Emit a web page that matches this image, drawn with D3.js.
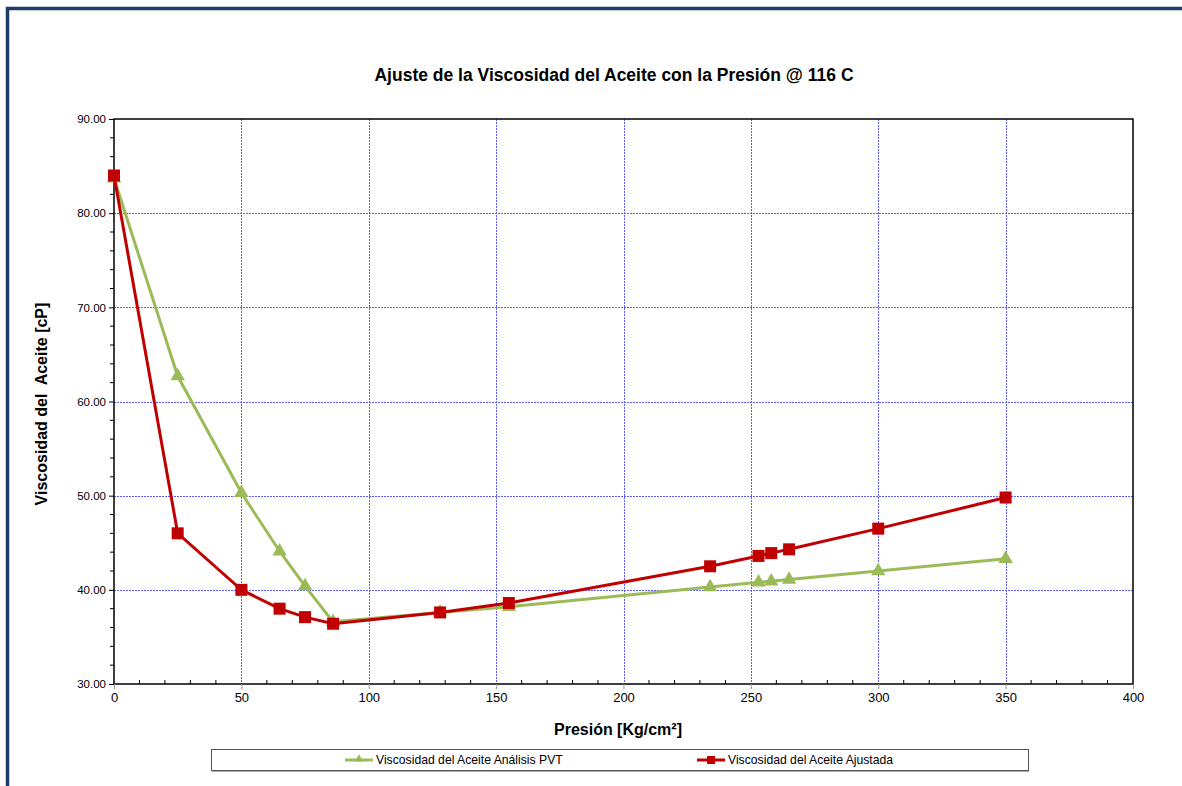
<!DOCTYPE html>
<html><head><meta charset="utf-8">
<script src="https://cdn.jsdelivr.net/npm/d3@7"></script>
<style>body{margin:0;background:#fff;}svg{display:block;font-family:"Liberation Sans",Arial,sans-serif;}</style>
</head><body>
<svg id="c" width="1182" height="786"></svg>
<script>
const title = "Ajuste de la Viscosidad del Aceite con la Presión @ 116 C";
const xLabel = "Presión [Kg/cm²]";
const yLabel = "Viscosidad del  Aceite [cP]";
const xTicks = [0, 50, 100, 150, 200, 250, 300, 350, 400];
const yTicks = [30, 40, 50, 60, 70, 80, 90];
const pvtName = "Viscosidad del Aceite Análisis PVT";
const pvtX = [0, 25, 50, 65, 75, 86, 128, 155, 234, 253, 258, 265, 300, 350];
const pvtY = [83.7, 62.7, 50.3, 44.1, 40.4, 36.6, 37.6, 38.2, 40.3, 40.8, 40.9, 41.1, 42.0, 43.3];
const adjName = "Viscosidad del Aceite Ajustada";
const adjX = [0, 25, 50, 65, 75, 86, 128, 155, 234, 253, 258, 265, 300, 350];
const adjY = [84.0, 46.0, 40.0, 38.0, 37.1, 36.4, 37.6, 38.6, 42.5, 43.6, 43.9, 44.3, 46.5, 49.8];

const svg = d3.select("#c");
const L = 114, R = 1133, T = 119, B = 684;
const x = d3.scaleLinear().domain([0, 400]).range([L, R]);
const y = d3.scaleLinear().domain([30, 90]).range([B, T]);
const green = "#9bbb59", red = "#c00000";
const px = v => Math.round(v) + 0.5;

// outer frame
svg.append("rect").attr("x", 7.5).attr("y", 8.5).attr("width", 1200).attr("height", 800)
  .attr("fill", "none").attr("stroke", "#1f3d66").attr("stroke-width", 3.5);

// title
svg.append("text").attr("x", 614).attr("y", 81).attr("text-anchor", "middle")
  .attr("font-size", 17.5).attr("font-weight", "bold").text(title);

// grid
const g = svg.append("g");
g.selectAll(".gx").data(xTicks.slice(1, -1)).join("line")
  .attr("x1", d => px(x(d))).attr("x2", d => px(x(d))).attr("y1", T).attr("y2", B)
  .attr("stroke", "#5c5cff").attr("stroke-width", 1).attr("stroke-dasharray", "2,1").attr("shape-rendering", "crispEdges");
g.selectAll(".gy").data(yTicks.slice(1, -1)).join("line")
  .attr("x1", L).attr("x2", R).attr("y1", d => px(y(d))).attr("y2", d => px(y(d)))
  .attr("stroke", "#5c5cff").attr("stroke-width", 1).attr("stroke-dasharray", "2,1").attr("shape-rendering", "crispEdges");

// plot border
svg.append("rect").attr("x", L).attr("y", T).attr("width", R - L).attr("height", B - T)
  .attr("fill", "none").attr("stroke", "#000").attr("stroke-width", 1.5);

// x axis
const xAxis = d3.axisBottom(x).tickValues(xTicks).tickFormat(d3.format("d")).tickSize(5).tickPadding(4);
const xa = svg.append("g").attr("transform", `translate(0,${B})`).call(xAxis);
xa.select(".domain").remove();
xa.selectAll(".tick line").attr("stroke", "#999");
xa.selectAll("text").attr("font-size", 13).attr("font-family", "Liberation Sans, Arial").attr("fill", "#000");
// x minor ticks (inside)
const xMinor = d3.range(0, 401, 10).filter(v => v % 50 !== 0);
svg.append("g").selectAll("line").data(xMinor).join("line")
  .attr("x1", d => x(d)).attr("x2", d => x(d)).attr("y1", B).attr("y2", B - 4)
  .attr("stroke", "#000").attr("stroke-width", 1);

// y axis
const yAxis = d3.axisLeft(y).tickValues(yTicks).tickFormat(d3.format(".2f")).tickSize(5).tickPadding(3);
const ya = svg.append("g").attr("transform", `translate(${L},0)`).call(yAxis);
ya.select(".domain").remove();
ya.selectAll(".tick line").attr("stroke", "#000");
ya.selectAll("text").attr("font-size", 11.5).attr("font-family", "Liberation Sans, Arial").attr("fill", "#000");
const yMinor = d3.range(30, 90.1, 2).filter(v => v % 10 !== 0);
svg.append("g").selectAll("line").data(yMinor).join("line")
  .attr("x1", L).attr("x2", L - 4).attr("y1", d => y(d)).attr("y2", d => y(d))
  .attr("stroke", "#000").attr("stroke-width", 1);

// axis titles
svg.append("text").attr("x", 618).attr("y", 735).attr("text-anchor", "middle")
  .attr("font-size", 16).attr("font-weight", "bold").text(xLabel);
svg.append("text").attr("transform", `translate(47,404) rotate(-90)`).attr("text-anchor", "middle")
  .attr("font-size", 16).attr("font-weight", "bold").style("white-space", "pre").text(yLabel);

// series
const line = d3.line().x(d => x(d[0])).y(d => y(d[1]));
const pvt = pvtX.map((v, i) => [v, pvtY[i]]);
const adj = adjX.map((v, i) => [v, adjY[i]]);
const tri = d3.symbol().type(d3.symbolTriangle).size(90);

svg.append("path").datum(pvt).attr("d", line).attr("fill", "none").attr("stroke", green).attr("stroke-width", 3);
svg.append("g").selectAll("path").data(pvt).join("path")
  .attr("transform", d => `translate(${x(d[0])},${y(d[1])})`).attr("d", tri).attr("fill", green);

svg.append("path").datum(adj).attr("d", line).attr("fill", "none").attr("stroke", red).attr("stroke-width", 3);
svg.append("g").selectAll("rect").data(adj).join("rect")
  .attr("x", d => x(d[0]) - 6).attr("y", d => y(d[1]) - 6).attr("width", 12).attr("height", 12).attr("fill", red);

// legend
svg.append("rect").attr("x", 212).attr("y", 751).attr("width", 817).attr("height", 21)
  .attr("fill", "#aaa");
svg.append("rect").attr("x", 211.5).attr("y", 749.5).attr("width", 817).attr("height", 21)
  .attr("fill", "#fff").attr("stroke", "#555").attr("stroke-width", 1);
const lg = [
  {name: pvtName, color: green, x0: 345, type: "tri"},
  {name: adjName, color: red, x0: 697, type: "sq"}
];
lg.forEach(it => {
  const cy = 760;
  svg.append("line").attr("x1", it.x0).attr("x2", it.x0 + 28).attr("y1", cy).attr("y2", cy)
    .attr("stroke", it.color).attr("stroke-width", 3);
  if (it.type === "tri") {
    svg.append("path").attr("transform", `translate(${it.x0 + 14},${cy - 1})`)
      .attr("d", d3.symbol().type(d3.symbolTriangle).size(30)).attr("fill", it.color);
  } else {
    svg.append("rect").attr("x", it.x0 + 10).attr("y", cy - 4).attr("width", 8).attr("height", 8).attr("fill", it.color);
  }
  svg.append("text").attr("x", it.x0 + 31).attr("y", cy + 4).attr("font-size", 12.2).text(it.name);
});
</script>
</body></html>
